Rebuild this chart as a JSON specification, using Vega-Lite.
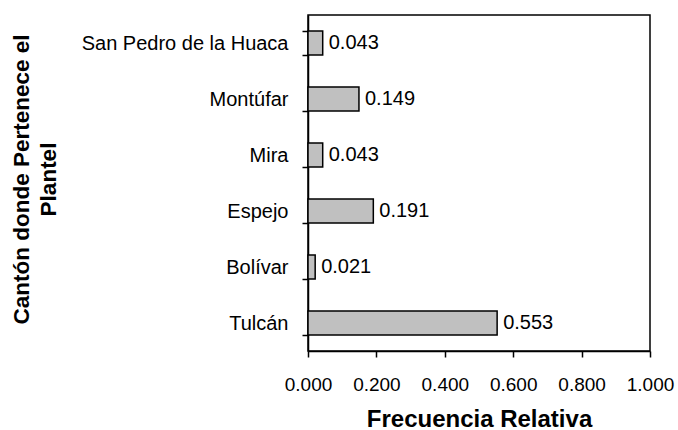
{
  "$schema": "https://vega.github.io/schema/vega-lite/v6.json",
  "width": 342,
  "height": 336,
  "autosize": "none",
  "padding": {"left": 308, "top": 15, "right": 28, "bottom": 79},
  "background": "white",
  "config": {
    "font": "Liberation Sans",
    "view": {"stroke": "black", "strokeWidth": 1.5},
    "axis": {"grid": false, "domainColor": "black", "domainWidth": 1.5, "tickColor": "black", "tickWidth": 1.5, "labelColor": "black", "titleColor": "black", "labelFontSize": 20, "titleFontSize": 24, "titleFontWeight": "bold", "labelLimit": 400, "labelOverlap": false, "labelFlush": false}
  },
  "data": {
    "values": [
      {"canton": "San Pedro de la Huaca", "freq": 0.043},
      {"canton": "Montúfar", "freq": 0.149},
      {"canton": "Mira", "freq": 0.043},
      {"canton": "Espejo", "freq": 0.191},
      {"canton": "Bolívar", "freq": 0.021},
      {"canton": "Tulcán", "freq": 0.553}
    ]
  },
  "encoding": {
    "y": {
      "field": "canton",
      "type": "nominal",
      "sort": ["San Pedro de la Huaca", "Montúfar", "Mira", "Espejo", "Bolívar", "Tulcán"],
      "scale": {"paddingInner": 0.57, "paddingOuter": 0.285},
      "axis": {
        "title": ["Cantón donde Pertenece el", "Plantel"],
        "titleFontSize": 22.5,
        "titleLineHeight": 27,
        "titleBaseline": "middle",
        "titleX": -287,
        "titleY": 164,
        "titleAnchor": "middle",
        "tickBand": "extent",
        "tickSize": 6,
        "labelPadding": 14
      }
    },
    "x": {
      "field": "freq",
      "type": "quantitative",
      "scale": {"domain": [0, 1], "nice": false},
      "axis": {
        "title": "Frecuencia Relativa",
        "values": [0, 0.2, 0.4, 0.6, 0.8, 1.0],
        "format": ".3f",
        "labelFontSize": 19,
        "tickSize": 6,
        "labelPadding": 18,
        "titlePadding": 13
      }
    }
  },
  "layer": [
    {"mark": {"type": "bar", "color": "#c0c0c0", "stroke": "black", "strokeWidth": 1.5}},
    {"mark": {"type": "text", "align": "left", "dx": 6, "fontSize": 20, "color": "black"},
     "encoding": {"text": {"field": "freq", "type": "quantitative", "format": ".3f"}}}
  ]
}
